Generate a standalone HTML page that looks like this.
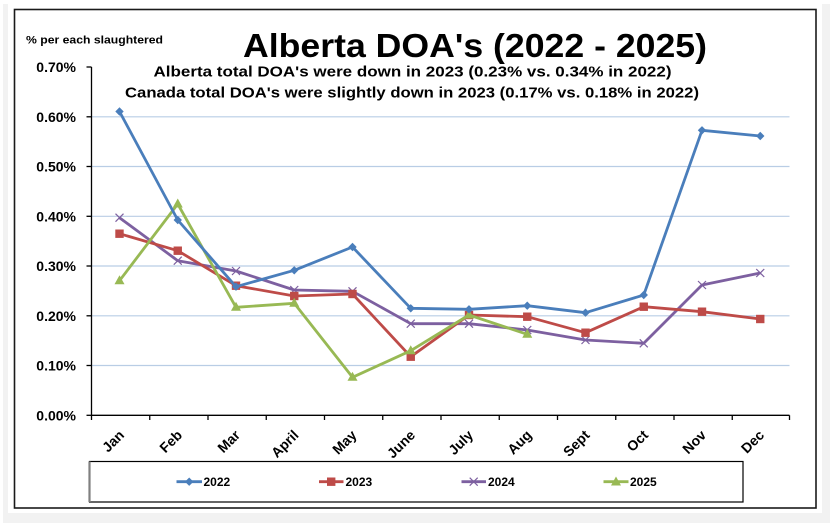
<!DOCTYPE html>
<html><head><meta charset="utf-8"><style>
html,body{margin:0;padding:0;background:#fff;}
svg{display:block;}
text{font-family:"Liberation Sans",Arial,sans-serif;font-weight:bold;fill:#000;}
</style></head><body>
<svg width="830" height="523" viewBox="0 0 830 523" xmlns="http://www.w3.org/2000/svg">
<rect x="3" y="4" width="827" height="519" fill="#f2f2f2"/>
<rect x="8" y="0" width="814" height="513" fill="#fff"/>
<rect x="14.5" y="9.5" width="801.5" height="498.5" fill="none" stroke="#1a1a1a" stroke-width="1.6"/>

<!-- gridlines -->
<g stroke="#b9cde5" stroke-width="1.2">
<line x1="91.5" y1="116.8" x2="789.5" y2="116.8"/>
<line x1="91.5" y1="166.5" x2="789.5" y2="166.5"/>
<line x1="91.5" y1="216.3" x2="789.5" y2="216.3"/>
<line x1="91.5" y1="266" x2="789.5" y2="266"/>
<line x1="91.5" y1="315.8" x2="789.5" y2="315.8"/>
<line x1="91.5" y1="365.5" x2="789.5" y2="365.5"/>
</g>

<!-- axes -->
<g stroke="#000" stroke-width="1.3" fill="none">
<line x1="91.5" y1="67" x2="91.5" y2="415.3"/>
<line x1="91.5" y1="415.3" x2="789.5" y2="415.3"/>
<line x1="86.5" y1="67" x2="91.5" y2="67"/>
<line x1="86.5" y1="116.8" x2="91.5" y2="116.8"/>
<line x1="86.5" y1="166.5" x2="91.5" y2="166.5"/>
<line x1="86.5" y1="216.3" x2="91.5" y2="216.3"/>
<line x1="86.5" y1="266" x2="91.5" y2="266"/>
<line x1="86.5" y1="315.8" x2="91.5" y2="315.8"/>
<line x1="86.5" y1="365.5" x2="91.5" y2="365.5"/>
<line x1="86.5" y1="415.3" x2="91.5" y2="415.3"/>
<line x1="91.5" y1="415.3" x2="91.5" y2="420"/>
<line x1="149.75" y1="415.3" x2="149.75" y2="420"/>
<line x1="208" y1="415.3" x2="208" y2="420"/>
<line x1="266.25" y1="415.3" x2="266.25" y2="420"/>
<line x1="324.5" y1="415.3" x2="324.5" y2="420"/>
<line x1="382.75" y1="415.3" x2="382.75" y2="420"/>
<line x1="441" y1="415.3" x2="441" y2="420"/>
<line x1="499.25" y1="415.3" x2="499.25" y2="420"/>
<line x1="557.5" y1="415.3" x2="557.5" y2="420"/>
<line x1="615.75" y1="415.3" x2="615.75" y2="420"/>
<line x1="674" y1="415.3" x2="674" y2="420"/>
<line x1="732.25" y1="415.3" x2="732.25" y2="420"/>
<line x1="789.5" y1="415.3" x2="789.5" y2="420"/>
</g>

<!-- y labels -->
<g font-size="14" text-anchor="end">
<text x="76" y="72">0.70%</text>
<text x="76" y="121.8">0.60%</text>
<text x="76" y="171.5">0.50%</text>
<text x="76" y="221.3">0.40%</text>
<text x="76" y="271">0.30%</text>
<text x="76" y="320.8">0.20%</text>
<text x="76" y="370.5">0.10%</text>
<text x="76" y="420.3">0.00%</text>
</g>

<!-- x labels -->
<g font-size="14" text-anchor="end">
<text transform="translate(125,436) rotate(-45)">Jan</text>
<text transform="translate(183,436) rotate(-45)">Feb</text>
<text transform="translate(241,436) rotate(-45)">Mar</text>
<text transform="translate(299.5,436) rotate(-45)">April</text>
<text transform="translate(357.5,436) rotate(-45)">May</text>
<text transform="translate(416,436) rotate(-45)">June</text>
<text transform="translate(474,436) rotate(-45)">July</text>
<text transform="translate(532.5,436) rotate(-45)">Aug</text>
<text transform="translate(590.5,436) rotate(-45)">Sept</text>
<text transform="translate(649,436) rotate(-45)">Oct</text>
<text transform="translate(707,436) rotate(-45)">Nov</text>
<text transform="translate(765,436) rotate(-45)">Dec</text>
</g>

<!-- titles -->
<text x="26" y="43.5" font-size="11" textLength="137" lengthAdjust="spacingAndGlyphs">% per each slaughtered</text>
<text x="243" y="57" font-size="33" textLength="464" lengthAdjust="spacingAndGlyphs">Alberta DOA's (2022 - 2025)</text>
<text x="153.5" y="76.5" font-size="14.5" textLength="518" lengthAdjust="spacingAndGlyphs">Alberta total DOA's were down in 2023 (0.23%  vs. 0.34% in 2022)</text>
<text x="125" y="97.5" font-size="14.5" textLength="574" lengthAdjust="spacingAndGlyphs">Canada total DOA's were slightly down in 2023 (0.17% vs. 0.18% in 2022)</text>

<defs>
<path id="dia" d="M0,-4.2 L4.2,0 L0,4.2 L-4.2,0 Z"/>
<rect id="sq" x="-4.2" y="-4.2" width="8.4" height="8.4"/>
<path id="xm" d="M-4,-4 L4,4 M-4,4 L4,-4" fill="none"/>
<path id="tri" d="M0,-5.5 L5,3.5 L-5,3.5 Z"/>
</defs>

<!-- 2024 purple -->
<polyline fill="none" stroke="#7d60a0" stroke-width="2.8" stroke-linejoin="round" points="119.5,217.7 177.75,260.7 236,271 294.25,290 352.5,291.3 410.75,323.7 469,323.7 527.25,330 585.5,340 643.75,343.3 702,285 760.25,273"/>
<g stroke="#7d60a0" stroke-width="1.2">
<use href="#xm" x="119.5" y="217.7"/><use href="#xm" x="177.75" y="260.7"/><use href="#xm" x="236" y="271"/><use href="#xm" x="294.25" y="290"/><use href="#xm" x="352.5" y="291.3"/><use href="#xm" x="410.75" y="323.7"/><use href="#xm" x="469" y="323.7"/><use href="#xm" x="527.25" y="330"/><use href="#xm" x="585.5" y="340"/><use href="#xm" x="643.75" y="343.3"/><use href="#xm" x="702" y="285"/><use href="#xm" x="760.25" y="273"/>
</g>

<!-- 2023 red -->
<polyline fill="none" stroke="#be4b48" stroke-width="2.8" stroke-linejoin="round" points="119.5,233.7 177.75,250.7 236,285.7 294.25,296 352.5,294 410.75,356.7 469,315 527.25,316.7 585.5,332.7 643.75,306.7 702,311.7 760.25,319"/>
<g fill="#be4b48">
<use href="#sq" x="119.5" y="233.7"/><use href="#sq" x="177.75" y="250.7"/><use href="#sq" x="236" y="285.7"/><use href="#sq" x="294.25" y="296"/><use href="#sq" x="352.5" y="294"/><use href="#sq" x="410.75" y="356.7"/><use href="#sq" x="469" y="315"/><use href="#sq" x="527.25" y="316.7"/><use href="#sq" x="585.5" y="332.7"/><use href="#sq" x="643.75" y="306.7"/><use href="#sq" x="702" y="311.7"/><use href="#sq" x="760.25" y="319"/>
</g>

<!-- 2025 green -->
<polyline fill="none" stroke="#98b954" stroke-width="2.8" stroke-linejoin="round" points="119.5,280.7 177.75,204 236,307.3 294.25,303.3 352.5,377.3 410.75,350.7 469,315 527.25,334.3"/>
<g fill="#98b954">
<use href="#tri" x="119.5" y="280.7"/><use href="#tri" x="177.75" y="204"/><use href="#tri" x="236" y="307.3"/><use href="#tri" x="294.25" y="303.3"/><use href="#tri" x="352.5" y="377.3"/><use href="#tri" x="410.75" y="350.7"/><use href="#tri" x="469" y="315"/><use href="#tri" x="527.25" y="334.3"/>
</g>

<!-- 2022 blue -->
<polyline fill="none" stroke="#4a7ebb" stroke-width="2.8" stroke-linejoin="round" points="119.5,111.5 177.75,220 236,286.7 294.25,270.3 352.5,247 410.75,308.3 469,309.3 527.25,305.7 585.5,312.7 643.75,295 702,130.3 760.25,136"/>
<g fill="#4a7ebb">
<use href="#dia" x="119.5" y="111.5"/><use href="#dia" x="177.75" y="220"/><use href="#dia" x="236" y="286.7"/><use href="#dia" x="294.25" y="270.3"/><use href="#dia" x="352.5" y="247"/><use href="#dia" x="410.75" y="308.3"/><use href="#dia" x="469" y="309.3"/><use href="#dia" x="527.25" y="305.7"/><use href="#dia" x="585.5" y="312.7"/><use href="#dia" x="643.75" y="295"/><use href="#dia" x="702" y="130.3"/><use href="#dia" x="760.25" y="136"/>
</g>

<!-- legend -->
<rect x="89.5" y="461.5" width="653.5" height="40.5" fill="#fff" stroke="#000" stroke-width="1.2"/>
<line x1="89.5" y1="461.5" x2="89.5" y2="502" stroke="#808080" stroke-width="2.2"/>
<g stroke-width="2.8">
<line x1="176.5" y1="481.7" x2="202" y2="481.7" stroke="#4a7ebb"/>
<line x1="319" y1="481.7" x2="343.5" y2="481.7" stroke="#be4b48"/>
<line x1="461.5" y1="481.7" x2="486" y2="481.7" stroke="#7d60a0"/>
<line x1="603.5" y1="481.7" x2="628.5" y2="481.7" stroke="#98b954"/>
</g>
<use href="#dia" x="189.2" y="481.7" fill="#4a7ebb"/>
<use href="#sq" x="331.2" y="481.7" fill="#be4b48"/>
<use href="#xm" x="473.7" y="481.7" stroke="#7d60a0" stroke-width="1.2"/>
<use href="#tri" x="616" y="482" fill="#98b954"/>
<g font-size="12">
<text x="203.5" y="486">2022</text>
<text x="345.5" y="486">2023</text>
<text x="488" y="486">2024</text>
<text x="630" y="486">2025</text>
</g>
</svg>
</body></html>
